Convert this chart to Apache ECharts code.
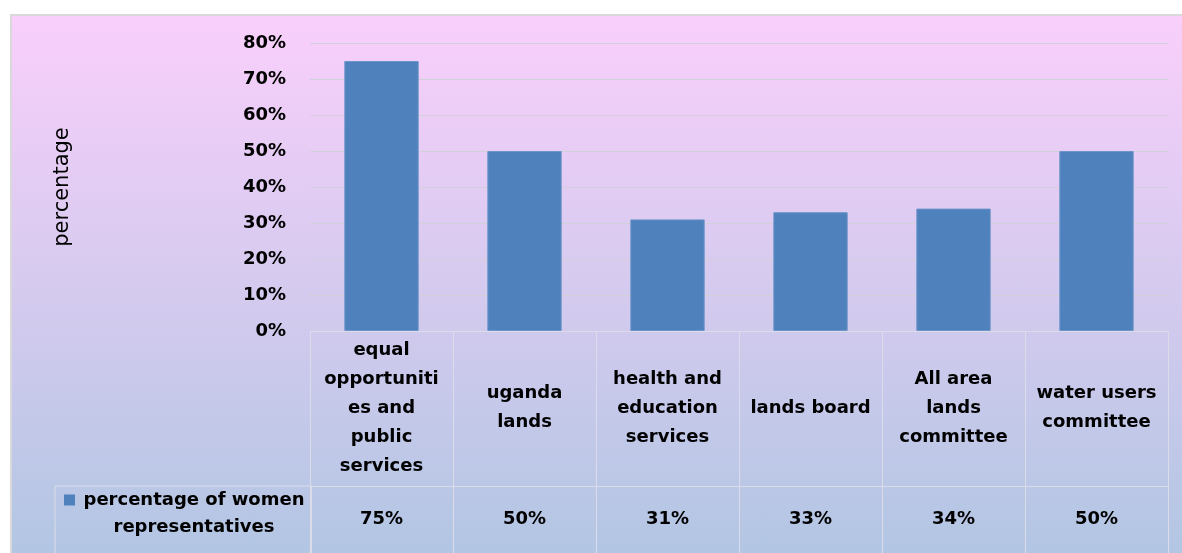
<!DOCTYPE html>
<html>
<head>
<meta charset="utf-8">
<script src="https://cdn.jsdelivr.net/npm/echarts@6/dist/echarts.min.js"></script>
<style>
html, body { margin: 0; padding: 0; background: #fff; }
#frame {
  position: absolute; left: 10px; top: 14px; width: 1172px; height: 539px;
  box-sizing: border-box; border-left: 2px solid #d9d9d9; border-top: 2px solid #d9d9d9;
  background: linear-gradient(to bottom, #f9cffb 0%, #b2c6e3 100%);
}
#chart { position: absolute; left: 0; top: 0; width: 1182px; height: 553px; }
</style>
</head>
<body>
<div id="frame"></div>
<div id="chart"></div>
<script>
// data
var seriesName = 'percentage of women representatives';
var categories = [
  'equal\nopportuniti\nes and\npublic\nservices',
  'uganda\nlands',
  'health and\neducation\nservices',
  'lands board',
  'All area\nlands\ncommittee',
  'water users\ncommittee'
];
var values = [0.75, 0.50, 0.31, 0.33, 0.34, 0.50];
var yTicks = [0, 0.1, 0.2, 0.3, 0.4, 0.5, 0.6, 0.7, 0.8];

var font = '"DejaVu Sans", sans-serif';
var tableLine = '#dcdce8';
var pct = function (v) { return Math.round(v * 100) + '%'; };

var myChart = echarts.init(document.getElementById('chart'));
var option = {
  backgroundColor: 'transparent',
  textStyle: { fontFamily: font },
  grid: [
    { left: 310, right: 14, top: 43, height: 288 },   // bars
    { left: 310, right: 14, top: 331, height: 155 },  // table header row
    { left: 310, right: 14, top: 486, bottom: 0 }     // table value row
  ],
  legend: {
    data: [seriesName],
    left: 55,
    top: 486,
    orient: 'vertical',
    icon: 'rect',
    itemWidth: 0,
    itemHeight: 0,
    itemGap: 0,
    padding: [5, 7, 40, 3],
    borderColor: tableLine,
    borderWidth: 1,
    selectedMode: false,
    formatter: function () {
      return '{i|}{g|}{a|percentage of women}\n{s|}{b|representatives}';
    },
    textStyle: {
      color: '#000',
      rich: {
        i: { width: 11, height: 11, backgroundColor: '#4f81bd', verticalAlign: 'middle' },
        g: { width: 9 },
        s: { width: 20 },
        a: { width: 220, align: 'center', fontSize: 18, fontWeight: 'bold', lineHeight: 27, color: '#000', fontFamily: font },
        b: { width: 220, align: 'center', fontSize: 18, fontWeight: 'bold', lineHeight: 27, color: '#000', fontFamily: font }
      }
    }
  },
  xAxis: [
    {
      type: 'category', gridIndex: 0, data: categories,
      axisLine: { show: true, onZero: false, lineStyle: { color: tableLine, width: 1 } },
      axisTick: { show: false },
      axisLabel: {
        interval: 0, margin: 77, verticalAlign: 'middle', align: 'center',
        fontSize: 18, fontWeight: 'bold', lineHeight: 29, color: '#000', fontFamily: font
      }
    },
    {
      type: 'category', gridIndex: 1, data: categories,
      axisLine: { show: false }, axisTick: { show: false }, axisLabel: { show: false },
      splitLine: { show: true, interval: 0, lineStyle: { color: tableLine, width: 1 } }
    },
    {
      type: 'category', gridIndex: 2, data: categories, position: 'top',
      axisLine: { show: true, onZero: false, lineStyle: { color: tableLine, width: 1 } },
      axisTick: { show: false },
      splitLine: { show: true, interval: 0, lineStyle: { color: tableLine, width: 1 } },
      axisLabel: {
        inside: true, interval: 0, margin: 33, verticalAlign: 'middle',
        fontSize: 18, fontWeight: 'bold', color: '#000', fontFamily: font,
        formatter: function (v, i) { return pct(values[i]); }
      }
    }
  ],
  yAxis: [
    {
      type: 'value', gridIndex: 0, min: yTicks[0], max: yTicks[yTicks.length - 1], interval: 0.1,
      name: 'percentage', nameLocation: 'middle', nameGap: 237,
      nameTextStyle: { fontSize: 21, color: '#000', fontFamily: font },
      axisLine: { show: false }, axisTick: { show: false },
      axisLabel: { margin: 24, fontSize: 18, fontWeight: 'bold', color: '#000', fontFamily: font, formatter: pct },
      splitLine: { show: true, lineStyle: { color: '#d2d0d8', width: 1 } }
    },
    { type: 'value', gridIndex: 1, show: false },
    { type: 'value', gridIndex: 2, show: false }
  ],
  series: [{
    name: seriesName,
    type: 'bar',
    xAxisIndex: 0,
    yAxisIndex: 0,
    barWidth: '52%',
    data: values,
    itemStyle: { color: '#4f81bd', borderColor: '#6b95c8', borderWidth: 1 }
  }]
};
myChart.setOption(option);
</script>
</body>
</html>
